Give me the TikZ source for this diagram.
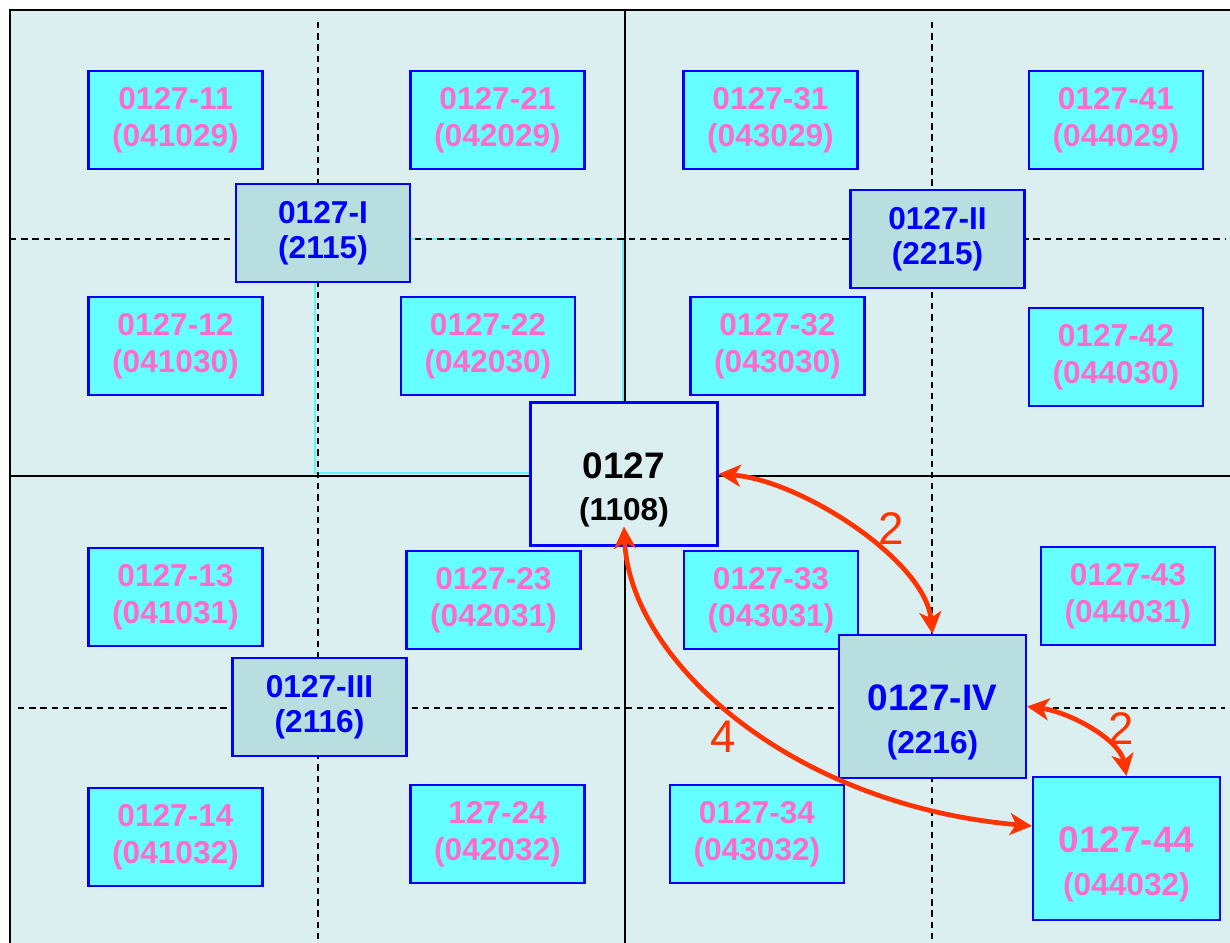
\documentclass[tikz,border=0pt]{standalone}
\usepackage{fontspec}
\setmainfont{Liberation Sans}
\usetikzlibrary{arrows.meta}
\definecolor{boxblue}{HTML}{0000FF}
\definecolor{cyanfill}{HTML}{66FFFF}
\definecolor{pinktxt}{HTML}{FF6BC8}
\definecolor{greyfill}{HTML}{B9DEE0}
\definecolor{paper}{HTML}{DBEEF0}
\definecolor{arrred}{HTML}{FF3300}
\definecolor{edge}{HTML}{5EF5F8}
\newcommand{\bigline}[1]{{\fontsize{10.5}{12}\selectfont\rule{0pt}{16.4pt}#1}}

\begin{document}
\begin{tikzpicture}[x=0.1mm,y=-0.1mm,>={Stealth[length=2.2mm,width=2.2mm,inset=0.6mm]},
sheet/.style={draw=boxblue,fill=cyanfill,line width=0.6pt,minimum width=17.4mm,minimum height=9.8mm,inner sep=0pt,align=center,text=pinktxt,font=\fontsize{9}{10.5}\selectfont\bfseries},
quad/.style={sheet,fill=greyfill,text=boxblue,font=\fontsize{9}{10}\selectfont\bfseries},
bigbox/.style={minimum width=18.7mm,minimum height=14.3mm,font=\fontsize{9}{12}\selectfont\bfseries},
cutline/.style={line width=0.55pt,dash pattern=on 1.8pt off 1.4pt},
link/.style={<->,draw=arrred,line width=1.35pt},
num/.style={text=arrred,font=\fontsize{13}{13}\selectfont,inner sep=0pt}]
\useasboundingbox (0,0) rectangle (1230,943);
% sheet background and cut lines
\fill[paper] (10,10) rectangle (1230,943);
\draw[edge,line width=0.6pt] (315,239) rectangle (623,473);
\draw[line width=0.7pt] (10,943) -- (10,10) -- (1230,10);
\draw[line width=0.55pt] (625,10) -- (625,943);
\draw[line width=0.55pt] (10,476) -- (1230,476);
\draw[cutline] (318,22) -- (318,943);
\draw[cutline] (932,22) -- (932,943);
\draw[cutline] (10,239) -- (1225,239);
\draw[cutline] (18,708) -- (1225,708);
% small sheets
\node[sheet] (s11) at (175.5,120) {0127-11\\(041029)};
\node[sheet] (s21) at (497.5,120) {0127-21\\(042029)};
\node[sheet] (s31) at (770.5,120) {0127-31\\(043029)};
\node[sheet] (s41) at (1116,120) {0127-41\\(044029)};
\node[sheet] (s12) at (175.5,346) {0127-12\\(041030)};
\node[sheet] (s22) at (488,346) {0127-22\\(042030)};
\node[sheet] (s32) at (777.5,346) {0127-32\\(043030)};
\node[sheet] (s42) at (1116,357) {0127-42\\(044030)};
\node[sheet] (s13) at (175.5,597) {0127-13\\(041031)};
\node[sheet] (s23) at (493.5,600) {0127-23\\(042031)};
\node[sheet] (s33) at (771,600) {0127-33\\(043031)};
\node[sheet] (s43) at (1128,596) {0127-43\\(044031)};
\node[sheet] (s14) at (175.5,837) {0127-14\\(041032)};
\node[sheet] (s24) at (497.5,834) {127-24\\(042032)};
\node[sheet] (s34) at (757,834) {0127-34\\(043032)};
\node[sheet,bigbox] (s44) at (1126.5,848.5) {\bigline{0127-44}\\(044032)};
% quarter sheets
\node[quad] (g1) at (323,233) {0127-I\\(2115)};
\node[quad] (g2) at (937.5,239) {0127-II\\(2215)};
\node[quad] (g3) at (319.5,707) {0127-III\\(2116)};
\node[quad,bigbox] (g4) at (932.5,706.5) {\bigline{0127-IV}\\(2216)};
\node[quad,bigbox,fill=paper,text=black] (m) at (624,474) {\bigline{0127}\\(1108)};
% neighbour steps
\coordinate (m4) at ([yshift=2mm]m.south);
\coordinate (s44w) at ([yshift=2.25mm]s44.west);
\draw[link] (m.east) .. controls (800,480) and (925,560) .. (g4.north);
\draw[link] (g4.east) .. controls (1070,712) and (1120,740) .. (s44.north);
\draw[link] (m4) .. controls (630,660) and (790,805) .. (s44w);
\node[num] (n1) at (891,529) {2};
\node[num] (n2) at (1121,729) {2};
\node[num] (n3) at (723,737) {4};
\end{tikzpicture}
\end{document}
